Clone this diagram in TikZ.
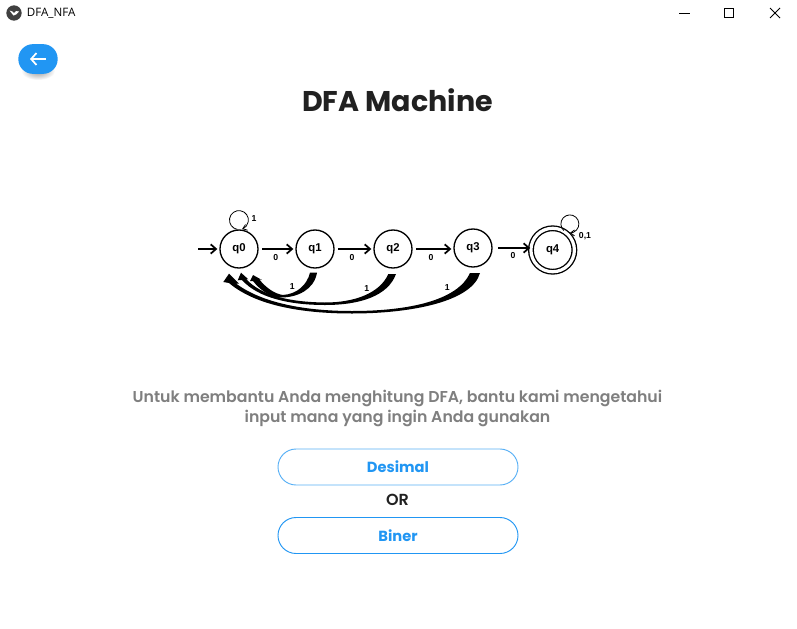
\documentclass[tikz,border=0pt]{standalone}
\usepackage{fontspec}
\setmainfont{Poppins}
\newfontfamily\uifont{Open Sans}
\newfontfamily\statefont{Liberation Sans}
\newfontfamily\semifont{Poppins SemiBold}
\usetikzlibrary{arrows.meta, positioning}
\definecolor{btnblue}{HTML}{2196F3}
\definecolor{darktext}{HTML}{212121}
\definecolor{greytext}{HTML}{7F7F7F}
\tikzstyle{state} = [circle, draw=black, line width=1pt, minimum size=28.5pt, inner sep=0pt, font=\statefont\fontsize{8.5}{10}\selectfont\bfseries]
\tikzstyle{arrow} = [line width=1.3pt,-{Straight Barb[length=4pt,width=7pt]},shorten >=1.5pt]
\tikzstyle{loopline} = [line width=0.6pt,-{Straight Barb[length=3pt,width=4.5pt]}]
\tikzstyle{edgelabel} = [inner sep=0pt, font=\statefont\fontsize{6.5}{8}\selectfont\bfseries]
\tikzstyle{choice} = [rectangle, rounded corners=13.5pt, draw=btnblue, line width=0.7pt, minimum width=180pt, minimum height=27pt, font=\fontsize{11}{13}\selectfont\bfseries, text=btnblue]
\tikzstyle{winbtn} = [line width=0.7pt, black]

\begin{document}
\begin{tikzpicture}[x=0.75pt, y=-0.75pt]
    \useasboundingbox (0,0) rectangle (797,629);
    \fill[white] (0,0) rectangle (797,629);

    % title bar
    \node (appicon) [circle, fill=black!75, minimum size=11.5pt, inner sep=0pt] at (14,13) {};
    \fill[white] (9.5,10.5) -- (12.5,11.5) -- (14,13) -- (16,11) -- (19,11.5) -- (16,14.5) -- (13.5,15.5) -- cycle;
    \node (apptitle) [right=3.5pt of appicon, inner sep=0pt, font=\uifont\fontsize{8.7}{10}\selectfont] {DFA\_NFA};
    \draw [winbtn] (679,13) -- (690,13);
    \draw [winbtn] (724.5,8.5) rectangle (733.5,17.5);
    \draw [winbtn] (770,8) -- (780,18) (780,8) -- (770,18);

    % back button
    \shade [inner color=black!40, outer color=white] (38,71) ellipse [x radius=17, y radius=9];
    \node (back) [rectangle, rounded corners=11pt, fill=btnblue, minimum width=29.5pt, minimum height=22.3pt] at (38,59) {};
    \draw [white, line width=1.3pt, -{Straight Barb[length=4pt,width=9pt]}] (46,59) -- (30,59);

    \node (heading) [font=\fontsize{21.4}{26}\selectfont\bfseries, text=darktext] at (397.5,100.5) {DFA Machine};

    % machine
    \node (q0) [state] at (239,249) {q0};
    \node (q1) [state, right=27.5pt of q0] {q1};
    \node (q2) [state, right=29pt of q1] {q2};
    \node (q3) [state, right=30.5pt of q2, yshift=0.75pt] {q3};
    \node (q4) [state, right=28.2pt of q3, yshift=-1.5pt, double, double distance=2.4pt, minimum size=32.6pt] {q4};
    \coordinate (start) at (198,249);

    \draw [arrow] (start) -- (q0);
    \draw [arrow, shorten <=2.5pt] (q0) -- node[edgelabel, below=3.5pt, pos=.47] {0} (q1);
    \draw [arrow, shorten <=2.5pt] (q1) -- node[edgelabel, below=3.5pt, pos=.45] {0} (q2);
    \draw [arrow, shorten <=2.5pt] (q2.east) -- node[edgelabel, below=3.5pt, pos=.45] {0} (q3.west |- q2.east);
    \draw [arrow, shorten <=4pt, shorten >=0pt] (q3.east) -- node[edgelabel, below=3pt, pos=.54] {0} (q4.west |- q3.east);

    \draw [loopline] (q0.95) arc [start angle=260, end angle=-70, radius=7.1pt];
    \node (loopa) [edgelabel] at (254,219) {1};
    \draw [loopline] (q4.60) arc [start angle=228, end angle=-90, radius=6.75pt];
    \node (loopb) [edgelabel] at (585,236) {0,1};

    % returning edges
    \coordinate (toone) at (253,275);
    \coordinate (totwo) at (241,272.7);
    \coordinate (tothree) at (229,273.7);
    \fill (toone) -- (262,280) -- (259,279) .. controls (266,288) and (275,294) .. (283,295) .. controls (297,294) and (307,285) .. (310,272.7) -- (317,272.7) .. controls (314,290) and (297,297.5) .. (281,297.5) .. controls (270,297) and (260,290) .. (253,281) -- (250,281) -- cycle;
    \fill (totwo) -- (248.3,279.3) -- (246,279) .. controls (262,296) and (290,302) .. (325,302.5) .. controls (355,302.5) and (380,293) .. (388.3,274) -- (396,274) .. controls (388,296) and (360,305) .. (325,305) .. controls (290,305) and (258,298) .. (242,280) -- (237.7,280.3) -- cycle;
    \fill (tothree) -- (239,283.7) -- (236,283.5) .. controls (262,303) and (305,311) .. (352,311) .. controls (410,311) and (458,300) .. (470,273) -- (480,273) .. controls (472,302) and (410,313.5) .. (352,313.5) .. controls (300,313.5) and (255,305) .. (229,283) -- (223.3,282) -- cycle;
    \node (labelone) [edgelabel] at (292.3,287) {1};
    \node (labeltwo) [edgelabel] at (366.7,288.7) {1};
    \node (labelthree) [edgelabel] at (447.3,288) {1};

    % question
    \node (question) [align=center, text=greytext, font=\semifont\fontsize{11.8}{15.2}\selectfont] at (397.5,408.8) {Untuk membantu Anda menghitung DFA, bantu kami mengetahui\\input mana yang ingin Anda gunakan};
    \node (desimal) [choice, draw=btnblue!75] at (398,467) {Desimal};
    \node (orlabel) [font=\semifont\fontsize{12}{14}\selectfont, text=darktext] at (397.5,500) {OR};
    \node (biner) [choice] at (398,535.5) {Biner};
\end{tikzpicture}
\end{document}
